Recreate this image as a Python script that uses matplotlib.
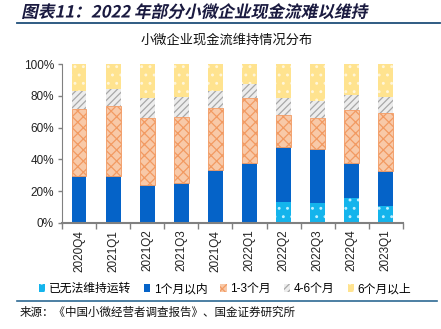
import matplotlib.pyplot as plt
import numpy as np
from matplotlib.lines import Line2D
from matplotlib.patches import Patch
from matplotlib.patheffects import AbstractPathEffect
from matplotlib.transforms import Affine2D

plt.rcParams['font.family'] = ['Liberation Sans', 'Noto Sans CJK SC', 'DejaVu Sans']
plt.rcParams['hatch.linewidth'] = 0.9

# data (percent of firms, stacked)
quarters = ['2020Q4', '2021Q1', '2021Q2', '2021Q3', '2021Q4',
            '2022Q1', '2022Q2', '2022Q3', '2022Q4', '2023Q1']
cant_run = [0, 0, 0, 0, 0, 0, 13.3, 12.6, 15.8, 10.7]
within_1m = [29.7, 29.7, 23.6, 25.3, 33.1, 37.9, 34.3, 33.7, 22.1, 21.9]
m1_3 = [41.9, 44.0, 42.3, 41.6, 39.5, 41.0, 20.4, 19.8, 33.2, 36.5]
m4_6 = [11.5, 10.7, 13.0, 12.6, 10.5, 8.7, 10.5, 10.9, 9.5, 10.4]
over_6m = [16.9, 15.6, 21.1, 20.5, 16.9, 12.4, 21.5, 23.0, 19.4, 20.5]

series = [
    ('已无法维持运转', cant_run, '#14B4EC', '#BFEFFF', '..'),
    ('1个月以内', within_1m, '#0563C8', '#0563C8', None),
    ('1-3个月', m1_3, '#F8C9A8', '#F29A62', 'xxx'),
    ('4-6个月', m4_6, '#EDEDED', '#A8A8A8', '/////'),
    ('6个月以上', over_6m, '#FFE38F', '#FFF6DA', '..'),
]


class Slant(AbstractPathEffect):
    """fake italic: shear glyph paths around the baseline"""
    def __init__(self, deg=12):
        super().__init__()
        self.deg = deg

    def draw_path(self, renderer, gc, tpath, affine, rgbFace=None):
        renderer.draw_path(gc, tpath, Affine2D().skew_deg(self.deg, 0) + affine, rgbFace)


fig = plt.figure(figsize=(4.41, 3.29), dpi=100)
ax = fig.add_axes([0.1413, 0.3231, 0.7717, 0.4815])

x = np.arange(len(quarters))
bottom = np.zeros(len(quarters))
handles = []
for label, vals, fc, hc, hatch in series:
    vals = np.array(vals) / 100.0
    ax.bar(x, vals, width=0.42, bottom=bottom, color=fc, edgecolor=hc,
           hatch=hatch, linewidth=0.6 if hatch == 'xxx' else 0)
    bottom += vals
    handles.append(Patch(facecolor=fc, edgecolor=hc, hatch=hatch,
                         linewidth=0, label=label))

ax.set_xlim(-0.5, len(quarters) - 0.5)
ax.set_ylim(0, 1)
ax.set_yticks(np.arange(0, 1.01, 0.2))
ax.set_yticklabels([f'{int(v * 100)}%' for v in np.arange(0, 1.01, 0.2)])
ax.set_xticks(x)
ax.set_xticklabels(quarters, rotation=90)
ax.set_xticks(np.arange(-0.5, len(quarters)), minor=True)
ax.tick_params(axis='x', which='major', length=0, pad=5, labelsize=8.5, colors='#222222')
ax.tick_params(axis='x', which='minor', length=4, width=1, color='#808080', direction='out')
ax.tick_params(axis='y', length=3, width=1, color='#808080', labelsize=8.5,
               labelcolor='#222222', pad=3)
for side in ['top', 'right']:
    ax.spines[side].set_visible(False)
ax.spines['left'].set_color('#808080')
ax.spines['bottom'].set_color('#808080')
ax.spines['bottom'].set_linewidth(1.5)

# header and chart title
fig.text(0.048, 0.962, '图表11：2022 年部分小微企业现金流难以维持', fontsize=12,
         fontweight='bold', color='#1A1A40', va='center', ha='left',
         family=['Noto Sans CJK SC', 'DejaVu Sans'], path_effects=[Slant(12)])
fig.add_artist(Line2D([0.038, 0.998], [0.930, 0.930], color='#1F4E79', lw=1.3))
fig.text(0.513, 0.878, '小微企业现金流维持情况分布', fontsize=9.5, color='#111111',
         ha='center', va='center', family=['Noto Sans CJK SC'])

fig.legend(handles=handles, loc='center', bbox_to_anchor=(0.51, 0.121), ncol=5,
           frameon=False, fontsize=8.5, handlelength=0.55, handleheight=0.55,
           handletextpad=0.3, columnspacing=1.1)

fig.add_artist(Line2D([0.038, 0.99], [0.085, 0.085], color='#2E6A94', lw=1.2))
fig.text(0.045, 0.052, '来源：《中国小微经营者调查报告》、国金证券研究所', fontsize=8.3,
         color='#111111', ha='left', va='center', family=['Noto Sans CJK SC'])

fig.savefig('out.png', dpi=100)
